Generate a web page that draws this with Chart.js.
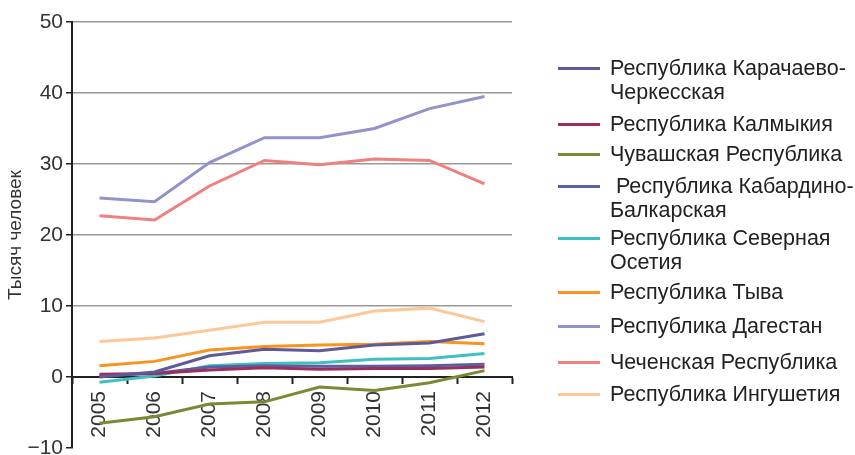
<!DOCTYPE html>
<html>
<head>
<meta charset="utf-8">
<script src="https://cdn.jsdelivr.net/npm/chart.js@4/dist/chart.umd.min.js"></script>
<style>
  html, body { margin: 0; padding: 0; background: #fff; }
  #wrap { position: relative; width: 855px; height: 455px; font-family: 'Liberation Sans', Arial, sans-serif; }
  #chart { position: absolute; left: 0; top: 0; }
  .item { position: absolute; left: 558px; display: flex; align-items: flex-start; }
  .swatch { width: 42px; height: 3px; margin-top: 11px; }
  .label { margin-left: 10px; font-size: 21.5px; line-height: 24px; color: #222; white-space: pre; }
</style>
</head>
<body>
<div id="wrap">
  <canvas id="chart" width="855" height="455"></canvas>
  <div id="legend"></div>
</div>
<script>
// ── ДАННЫЕ ──
const years = ['2005', '2006', '2007', '2008', '2009', '2010', '2011', '2012'];

const karachaevo = [0.0, 0.7, 3.0, 3.9, 3.7, 4.5, 4.8, 6.1];
const kalmykia   = [0.4, 0.5, 1.0, 1.3, 1.1, 1.2, 1.2, 1.4];
const chuvashia  = [-6.5, -5.6, -3.8, -3.5, -1.4, -1.9, -0.8, 0.9];
const kabardino  = [0.2, 0.5, 1.4, 1.6, 1.5, 1.5, 1.6, 1.8];
const ossetia    = [-0.75, 0.15, 1.6, 1.9, 2.0, 2.5, 2.6, 3.3];
const tyva       = [1.6, 2.2, 3.8, 4.3, 4.5, 4.6, 5.0, 4.7];
const dagestan   = [25.2, 24.7, 30.2, 33.7, 33.7, 35.0, 37.8, 39.5];
const chechnya   = [22.7, 22.1, 26.9, 30.5, 29.9, 30.7, 30.5, 27.2];
const ingushetia = [5.0, 5.5, 6.6, 7.7, 7.7, 9.3, 9.7, 7.8];

const seriesNames = [
  'Республика Карачаево-\nЧеркесская',
  'Республика Калмыкия',
  'Чувашская Республика',
  ' Республика Кабардино-\nБалкарская',
  'Республика Северная\nОсетия',
  'Республика Тыва',
  'Республика Дагестан',
  'Чеченская Республика',
  'Республика Ингушетия'
];
const seriesValues = [karachaevo, kalmykia, chuvashia, kabardino, ossetia, tyva, dagestan, chechnya, ingushetia];
const seriesColors = ['#5e5a9a', '#9a2f5e', '#7a8a32', '#5a5fa0', '#3fc0c0', '#f7931e', '#9393cc', '#f07f80', '#fdc898'];

const yTicks = [-10, 0, 10, 20, 30, 40, 50];

// ── ЛЕГЕНДА (HTML) ──
const legendTops = [56, 112, 142, 174, 226, 280, 314, 350, 382];
const legend = document.getElementById('legend');
seriesNames.forEach((name, i) => {
  const item = document.createElement('div');
  item.className = 'item';
  item.style.top = legendTops[i] + 'px';
  const sw = document.createElement('div');
  sw.className = 'swatch';
  sw.style.background = seriesColors[i];
  const lb = document.createElement('div');
  lb.className = 'label';
  lb.textContent = name;
  item.appendChild(sw);
  item.appendChild(lb);
  legend.appendChild(item);
});

// ── ГРАФИК ──
const font = 'Liberation Sans';
new Chart(document.getElementById('chart'), {
  type: 'line',
  data: {
    labels: years,
    datasets: seriesValues.map((vals, i) => ({
      label: seriesNames[i],
      data: vals,
      borderColor: seriesColors[i],
      backgroundColor: seriesColors[i],
      borderWidth: 3,
      pointRadius: 0,
      tension: 0,
      fill: false
    }))
  },
  options: {
    responsive: false,
    animation: false,
    layout: { padding: { left: 0, top: 22, right: 343, bottom: 7 } },
    plugins: { legend: { display: false }, tooltip: { enabled: false } },
    scales: {
      x: {
        position: { y: 0 },
        offset: true,
        grid: { offset: true, drawOnChartArea: false, drawTicks: true, tickLength: 6, tickColor: '#222', tickWidth: 2 },
        border: { color: '#222', width: 2 },
        ticks: { minRotation: 90, maxRotation: 90, padding: 8, color: '#333', font: { family: font, size: 21 } }
      },
      y: {
        min: -10,
        max: 50,
        afterBuildTicks: s => { s.ticks = yTicks.map(v => ({ value: v })); },
        afterFit: s => { s.width = 72; s.paddingTop = 0; s.paddingBottom = 0; },
        ticks: {
          color: '#333', padding: 3,
          font: { family: font, size: 21 },
          callback: v => v < 0 ? '\u2212' + Math.abs(v) : v
        },
        grid: {
          color: ctx => (ctx.tick && (ctx.tick.value === -10 || ctx.tick.value === 0)) ? 'rgba(0,0,0,0)' : '#999',
          lineWidth: 1.5,
          tickColor: '#222',
          tickLength: 6,
          tickWidth: 1.5
        },
        border: { color: '#222', width: 2 },
        title: { display: true, text: 'Тысяч человек', color: '#333', font: { family: font, size: 19 } }
      }
    }
  }
});
</script>
</body>
</html>
